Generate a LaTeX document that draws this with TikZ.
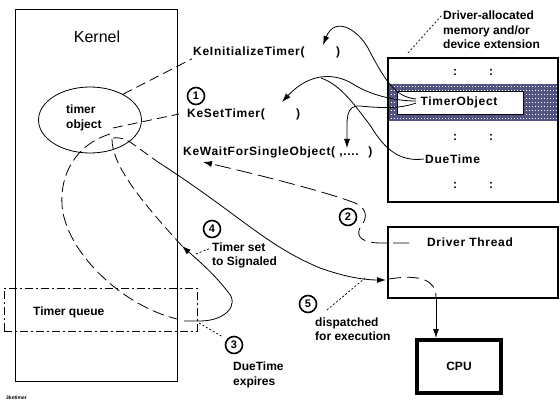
\documentclass[tikz,border=0pt]{standalone}
\usepackage{fontspec}
\setmainfont{Liberation Sans}
\newfontfamily\myspaced[LetterSpace=6]{Liberation Sans}
\usetikzlibrary{arrows.meta,shapes.geometric}
\newcommand\myfn{\myspaced\bfseries\fontsize{12}{14}\selectfont}
\newcommand\mylbl{\bfseries\fontsize{12}{14.5}\selectfont}
\newcommand\mykern{\fontsize{16}{18}\selectfont}
\newcommand\mynum{\bfseries\fontsize{11}{12}\selectfont}
\newcommand\mytiny{\bfseries\fontsize{5}{6}\selectfont}
\definecolor{bandcol}{RGB}{84,84,132}
\tikzset{
  fn/.style={font=\myfn, inner sep=1pt, anchor=west},
  lbl/.style={font=\mylbl, inner sep=1pt},
  num/.style={draw, circle, line width=1.6pt, minimum size=17pt, inner sep=0pt, font=\mynum},
  thinline/.style={line width=0.8pt},
  longdash/.style={dash pattern=on 10pt off 5pt},
  leader/.style={line width=0.7pt, dash pattern=on 2pt off 2pt},
  arr/.style={-{Latex[length=9pt,width=6pt]}},
  boxnode/.style={draw, inner sep=0pt, anchor=north west},
}
\begin{document}
\begin{tikzpicture}[x=1pt,y=-1pt]
\useasboundingbox (0,0) rectangle (560,409);
\fill[white] (0,0) rectangle (560,409);

% ---------- Kernel box ----------
\node[boxnode, line width=1.1pt, minimum width=162pt, minimum height=372pt] (kbox) at (15,9) {};
\node[font=\mykern] (kerneltxt) at (97,37) {Kernel};
\node[draw, ellipse, line width=0.8pt, minimum width=103pt, minimum height=66pt, inner sep=0pt] (tobj) at (90,120) {};
\node[lbl, align=left, anchor=west] (tobjtxt) at (65,118) {timer\\object};

% ---------- Timer queue ----------
\node[boxnode, line width=0.9pt, dash pattern=on 8pt off 3pt on 2pt off 3pt, minimum width=193pt, minimum height=43pt] (tq) at (4,288) {};
\node[lbl, anchor=west] (tqtxt) at (32,312) {Timer queue};

% ---------- Memory box ----------
\fill[bandcol] (387,84) rectangle (557,121);
\foreach \yy in {87,91,95,99,103,107,111,115,119}
  \draw[white, line width=1pt, dash pattern=on 1pt off 2pt] (388,\yy) -- (557,\yy);
\node[boxnode, fill=white, line width=1.3pt, minimum width=126pt, minimum height=23pt] (tobox) at (397,91) {};
\node[boxnode, line width=1.6pt, minimum width=170pt, minimum height=144pt] (membox) at (387,57) {};
\node[fn, anchor=center] (tobjname) at (459,102) {TimerObject};
\node[fn] (due) at (424,159) {DueTime};
\node[fn, anchor=center] (c1a) at (455,72) {:};
\node[fn, anchor=center] (c1b) at (491,72) {:};
\node[fn, anchor=center] (c2a) at (455,137) {:};
\node[fn, anchor=center] (c2b) at (491,137) {:};
\node[fn, anchor=center] (c3a) at (455,185) {:};
\node[fn, anchor=center] (c3b) at (491,185) {:};
\node[lbl, align=left, anchor=west] (drvtxt) at (442,30) {Driver-allocated\\memory and/or\\device extension};

% ---------- Driver thread & CPU ----------
\node[boxnode, line width=1.6pt, minimum width=170pt, minimum height=71pt] (dtbox) at (387,226) {};
\node[fn, anchor=center] (dttxt) at (470,242) {Driver Thread};
\node[draw, line width=4pt, minimum width=84pt, minimum height=53pt, inner sep=0pt, font=\mylbl] (cpu) at (459,366.5) {CPU};

% ---------- function labels ----------
\node[fn] (kinit) at (192,52) {KeInitializeTimer(};
\node[fn] (kinitR) at (335,52) {)};
\node[fn] (kset) at (186,114) {KeSetTimer(};
\node[fn] (ksetR) at (295,114) {)};
\node[fn] (kwait) at (182,152) {KeWaitForSingleObject( ,....~ )};

% ---------- other labels ----------
\node[lbl, align=left, anchor=west] (sigtxt) at (211,255.5) {Timer set\\to Signaled};
\node[lbl, align=left, anchor=west] (duetxt) at (232,375) {DueTime\\expires};
\node[lbl, align=left, anchor=west] (disptxt) at (314,329) {dispatched\\for execution};
\node[font=\mytiny, anchor=west, inner sep=0pt] (fname) at (6,398) {3ketimer};

% ---------- circled numbers ----------
\node[num] (n1) at (196,96) {1};
\node[num] (n2) at (348,217) {2};
\node[num] (n3) at (234,345) {3};
\node[num] (n4) at (212,229) {4};
\node[num] (n5) at (308,304) {5};

% ---------- coordinates ----------
\coordinate (objA) at (113,128);
\coordinate (objB) at (110,134);
\coordinate (objC) at (112,139);
\coordinate (objD) at (113,138);
\coordinate (qin) at (177,319);
\coordinate (qout) at (184,321);
\coordinate (sig) at (182,246);
\coordinate (dtin) at (386,280);
\coordinate (dtA) at (409,243);
\coordinate (kwtip) at (203,162);
\coordinate (dtout) at (389,279);
\coordinate (dtbot) at (436,297);
\coordinate (cputop) at (436,338);
\coordinate (f1) at (416,99);
\coordinate (f2) at (416,101);
\coordinate (f3) at (416,103);
\coordinate (t1) at (323,45);
\coordinate (t2) at (282,102);
\coordinate (t3) at (347,148);
\coordinate (merge) at (321,78);
\coordinate (memdot) at (408,53);
\coordinate (drvdot) at (442,15);

% ---------- connectors in kernel ----------
\draw[thinline, longdash] (tobj.38) -- (kinit.south west);
\draw[thinline, longdash] (objA) -- ([xshift=-7pt]kset.west);
\draw[thinline, dash pattern=on 12pt off 5pt] (objB) .. controls (75,145) and (60,175) .. (62,205) .. controls (65,250) and (120,305) .. (qin);
\draw[thinline, arr] (qout) -- (200,321) .. controls (225,321) and (240,305) .. (228,292) .. controls (215,275) and (200,262) .. (sig);
\draw[thinline, longdash] (objC) .. controls (112,165) and (140,200) .. (sig);
\draw[thinline, longdash] (objD) .. controls (122,137) and (128,140) .. (137,147) -- (158,162);
\draw[thinline, arr] (158,162) .. controls (240,215) and (265,245) .. (320,268) .. controls (345,277) and (365,280) .. (dtin);

% ---------- wait / dispatch ----------
\draw[thinline, dash pattern=on 16pt off 6pt, arr] (dtA) -- (380,243) .. controls (365,243) and (355,238) .. (360,228) .. controls (366,220) and (370,210) .. (355,203) .. controls (330,193) and (260,175) .. (kwtip);
\draw[thinline, dash pattern=on 12pt off 6pt] (dtout) .. controls (420,274) and (436,280) .. (dtbot);
\draw[thinline, arr] (dtbot) -- (cputop);

% ---------- from memory ----------
\draw[thinline, arr] (f1) .. controls (395,97) and (385,80) .. (370,52) .. controls (360,30) and (335,15) .. (t1);
\draw[thinline, arr] (f2) .. controls (395,101) and (370,95) .. (353,84) .. controls (335,73) and (310,72) .. (t2);
\draw[thinline, arr] (f3) .. controls (400,109) and (380,108) .. (360,106) .. controls (345,105) and (347,120) .. (t3);
\draw[thinline] (due.west) .. controls (400,162) and (385,150) .. (370,125) .. controls (358,110) and (342,85) .. (merge);

% ---------- leaders ----------
\draw[leader] (memdot) -- (drvdot);
\draw[leader] (n5) ++(19,6) -- (365,278);
\draw[leader] (196,254) -- (sigtxt.west |- 248,248);
\draw[leader] (199,323) -- (223,337);
\end{tikzpicture}
\end{document}
